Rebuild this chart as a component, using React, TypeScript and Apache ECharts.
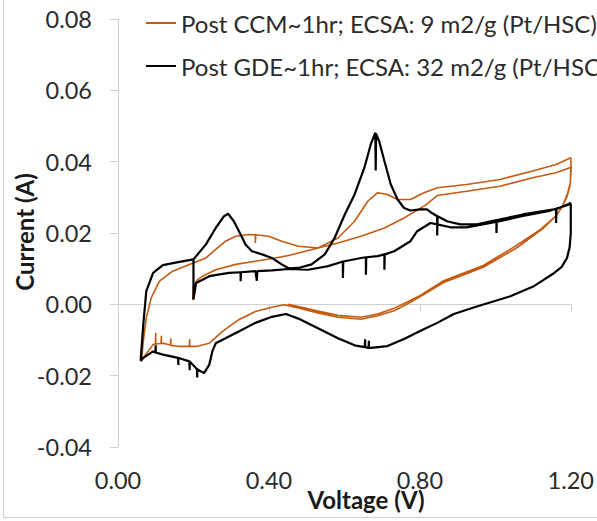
import React, { useEffect, useRef } from "react";
import * as echarts from "echarts";

const ccmName = "Post CCM~1hr; ECSA: 9 m2/g (Pt/HSC)";
const gdeName = "Post GDE~1hr; ECSA: 32 m2/g (Pt/HSC)";

const xTicks = [0, 0.4, 0.8, 1.2];
const yTicks = [-0.04, -0.02, 0, 0.02, 0.04, 0.06, 0.08];

// ---- Post CCM (orange) : [voltage V, current A]
const ccmAnodic1: number[][] = [
  [0.198, 0.0013], [0.2, 0.005], [0.21, 0.0068], [0.224, 0.0079], [0.259, 0.0097],
  [0.312, 0.0112], [0.364, 0.0121], [0.417, 0.013], [0.452, 0.0137], [0.478, 0.0144],
  [0.53, 0.0158], [0.583, 0.0172], [0.644, 0.0191], [0.706, 0.0214], [0.758, 0.0242],
  [0.793, 0.0264], [0.815, 0.0278], [0.846, 0.0305], [0.924, 0.0317], [1.012, 0.0331],
  [1.099, 0.0355], [1.161, 0.0369], [1.197, 0.0383], [1.2, 0.0386],
];
const ccmCathodic1: number[][] = [
  [1.199, 0.034], [1.191, 0.031], [1.178, 0.0275], [1.161, 0.0248], [1.126, 0.0212],
  [1.056, 0.0158], [0.968, 0.0104], [0.863, 0.0061], [0.811, 0.0028], [0.775, 0.0006],
  [0.732, -0.0018], [0.688, -0.0032], [0.644, -0.0042], [0.583, -0.0036], [0.53, -0.0024],
  [0.478, -0.001], [0.44, -0.0001], [0.408, -0.0008], [0.364, -0.002], [0.32, -0.0043],
  [0.277, -0.0076], [0.242, -0.0109], [0.207, -0.0118], [0.19, -0.0118], [0.19, -0.0098],
  [0.189, -0.0118], [0.163, -0.0118], [0.14, -0.0115], [0.14, -0.0095], [0.139, -0.0114],
  [0.119, -0.0109], [0.115, -0.011], [0.115, -0.0088], [0.114, -0.011], [0.1, -0.0111],
  [0.1, -0.008], [0.099, -0.0111], [0.093, -0.0113], [0.066, -0.0151], [0.062, -0.016],
];
const ccmAnodic2: number[][] = [
  [0.067, -0.0104], [0.075, -0.0038], [0.088, 0.0018], [0.11, 0.0065], [0.145, 0.0093],
  [0.189, 0.0112], [0.233, 0.013], [0.259, 0.0154], [0.285, 0.0177], [0.312, 0.0191],
  [0.347, 0.0196], [0.364, 0.0195], [0.364, 0.0172], [0.365, 0.0195], [0.399, 0.0191],
  [0.434, 0.0177], [0.478, 0.0163], [0.53, 0.0158], [0.583, 0.0186], [0.627, 0.0233],
  [0.662, 0.0289], [0.688, 0.0313], [0.714, 0.0308], [0.741, 0.0294], [0.775, 0.0294],
  [0.811, 0.0313], [0.846, 0.0327], [0.924, 0.0336], [1.012, 0.035], [1.099, 0.0374],
  [1.161, 0.0392], [1.2, 0.0411],
];
const ccmCathodic2: number[][] = [
  [1.201, 0.038], [1.198, 0.0333], [1.19, 0.0302], [1.176, 0.0271], [1.158, 0.0245],
  [1.12, 0.021], [1.05, 0.0161], [0.968, 0.0109], [0.863, 0.0066], [0.8, 0.0024],
  [0.73, -0.0012], [0.688, -0.0027], [0.644, -0.0036], [0.583, -0.0031], [0.53, -0.0019],
  [0.478, -0.0006], [0.45, 0.0],
];

// ---- Post GDE (black)
const gdeStart: number[][] = [[0.2, 0.0126], [0.2, 0.0013]];
const gdeAnodic1: number[][] = [
  [0.207, 0.006], [0.242, 0.0079], [0.294, 0.0088], [0.325, 0.009], [0.325, 0.0065],
  [0.326, 0.009], [0.364, 0.0093], [0.368, 0.0066], [0.369, 0.0093], [0.408, 0.0095],
  [0.452, 0.0099], [0.504, 0.0097], [0.557, 0.0107], [0.596, 0.012], [0.596, 0.0074],
  [0.597, 0.012], [0.644, 0.013], [0.657, 0.0132], [0.657, 0.0083], [0.658, 0.0132],
  [0.688, 0.0135], [0.706, 0.014], [0.706, 0.0097], [0.707, 0.014], [0.732, 0.0149],
  [0.775, 0.0177], [0.793, 0.0205], [0.828, 0.0228], [0.846, 0.0224], [0.881, 0.0216],
  [0.924, 0.0216], [1.012, 0.0233], [1.073, 0.0248], [1.143, 0.0262], [1.196, 0.028],
  [1.2, 0.0283],
];
const gdeCathodic1: number[][] = [
  [1.2, 0.02], [1.197, 0.016], [1.19, 0.013], [1.176, 0.0105], [1.152, 0.0085],
  [1.126, 0.0067], [1.099, 0.0049], [1.038, 0.0022], [0.951, -0.0006], [0.89, -0.0027],
  [0.846, -0.0052], [0.802, -0.0074], [0.758, -0.0097], [0.714, -0.0117], [0.67, -0.0122],
  [0.665, -0.0122], [0.665, -0.0102], [0.664, -0.0122], [0.655, -0.012], [0.655, -0.0098],
  [0.654, -0.012], [0.627, -0.0115], [0.583, -0.0095], [0.53, -0.0067], [0.478, -0.004],
  [0.445, -0.0027], [0.408, -0.0035], [0.364, -0.0052], [0.32, -0.0076], [0.285, -0.0095],
  [0.259, -0.0109], [0.25, -0.0132], [0.242, -0.0169], [0.228, -0.0193], [0.21, -0.0182],
  [0.21, -0.0205], [0.209, -0.0181], [0.19, -0.016], [0.19, -0.0185], [0.189, -0.016],
  [0.163, -0.0151], [0.16, -0.015], [0.16, -0.017], [0.159, -0.015], [0.119, -0.0141],
  [0.1, -0.0135], [0.1, -0.0115], [0.099, -0.0135], [0.093, -0.0132], [0.066, -0.0151],
  [0.06, -0.0158],
];
const gdeAnodic2: number[][] = [
  [0.067, -0.0057], [0.075, 0.0037], [0.093, 0.0088], [0.119, 0.011], [0.163, 0.0119],
  [0.2, 0.0126], [0.233, 0.0168], [0.259, 0.0214], [0.281, 0.0247], [0.292, 0.0254],
  [0.307, 0.0233], [0.325, 0.0196], [0.338, 0.0168], [0.355, 0.0149], [0.382, 0.014],
  [0.408, 0.013], [0.434, 0.0112], [0.452, 0.0101], [0.478, 0.0102], [0.513, 0.0112],
  [0.548, 0.014], [0.574, 0.0186], [0.601, 0.0252], [0.627, 0.0308], [0.653, 0.0383],
  [0.67, 0.0449], [0.682, 0.0481], [0.683, 0.0375], [0.684, 0.0478], [0.692, 0.0458],
  [0.706, 0.0402], [0.723, 0.0336], [0.741, 0.0294], [0.758, 0.027], [0.775, 0.0263],
  [0.802, 0.0266], [0.819, 0.0266], [0.832, 0.0256], [0.846, 0.0247], [0.846, 0.0193],
  [0.847, 0.0247], [0.872, 0.0233], [0.907, 0.0224], [0.951, 0.0224], [1.003, 0.0236],
  [1.003, 0.02], [1.004, 0.0236], [1.073, 0.0252], [1.143, 0.0264], [1.161, 0.0267],
  [1.161, 0.0228], [1.162, 0.0267], [1.196, 0.0282], [1.2, 0.0285],
];

const ccmData = [...ccmAnodic1, ...ccmCathodic1, ...ccmAnodic2, ...ccmCathodic2];
const gdeData = [...gdeStart, ...gdeAnodic1, ...gdeCathodic1, ...gdeAnodic2];

const ORANGE = "#C55A11";
const TEXT = "#2b2b2b";
const FONT = "Lato";

export default function App() {
  const ref = useRef<HTMLDivElement>(null);
  useEffect(() => {
    if (!ref.current) return;
    const chart = echarts.init(ref.current, undefined, { renderer: "svg" });
    const legendBase = {
      left: 146,
      padding: 0,
      icon: "rect",
      itemWidth: 30,
      itemHeight: 2,
      textStyle: { fontSize: 24, color: TEXT, fontFamily: FONT, lineHeight: 26 },
    };
    chart.setOption({
      animation: false,
      backgroundColor: "#ffffff",
      legend: [
        { ...legendBase, top: 10, data: [ccmName] },
        { ...legendBase, top: 53, data: [gdeName] },
      ],
      grid: { left: 118, right: 22, top: 19, bottom: 74 },
      xAxis: {
        type: "value",
        min: xTicks[0],
        max: xTicks[xTicks.length - 1],
        interval: 0.4,
        axisLine: { show: true, lineStyle: { color: "#d0d0d0", width: 1 } },
        axisTick: { show: true, length: 8, lineStyle: { color: "#d0d0d0" } },
        splitLine: { show: false },
        axisLabel: {
          margin: 21,
          fontSize: 23.5,
          color: TEXT,
          fontFamily: FONT,
          formatter: (v: number) => v.toFixed(2),
        },
      },
      yAxis: {
        type: "value",
        min: yTicks[0],
        max: yTicks[yTicks.length - 1],
        interval: 0.02,
        axisLine: { show: true, lineStyle: { color: "#d0d0d0", width: 1 } },
        axisTick: { show: true, length: 8, lineStyle: { color: "#d0d0d0" } },
        splitLine: { show: false },
        axisLabel: {
          margin: 26,
          fontSize: 23.5,
          color: TEXT,
          fontFamily: FONT,
          formatter: (v: number) => v.toFixed(2),
        },
      },
      graphic: [
        { type: "line", shape: { x1: 3.5, y1: 0, x2: 3.5, y2: 517.5 }, style: { stroke: "#d0d0d0", lineWidth: 1 } },
        { type: "line", shape: { x1: 3.5, y1: 517.5, x2: 597, y2: 517.5 }, style: { stroke: "#d0d0d0", lineWidth: 1 } },
        {
          type: "text",
          x: 366,
          y: 499,
          z: 10,
          style: { text: "Voltage (V)", fontSize: 24, fontWeight: "bold", fill: "#1a1a1a", fontFamily: FONT, align: "center", verticalAlign: "middle" },
        },
        {
          type: "text",
          x: 24,
          y: 232,
          rotation: Math.PI / 2,
          style: { text: "Current (A)", fontSize: 24, fontWeight: "bold", fill: "#1a1a1a", fontFamily: FONT, align: "center", verticalAlign: "middle" },
        },
      ],
      series: [
        {
          name: ccmName,
          type: "line",
          data: ccmData,
          showSymbol: false,
          symbol: "none",
          color: ORANGE,
          lineStyle: { color: ORANGE, width: 1.6 },
        },
        {
          name: gdeName,
          type: "line",
          data: gdeData,
          showSymbol: false,
          symbol: "none",
          color: "#000000",
          lineStyle: { color: "#000000", width: 2.2 },
        },
      ],
    });
    return () => chart.dispose();
  }, []);
  return <div ref={ref} style={{ width: 597, height: 521, position: "absolute", left: 0, top: 0 }} />;
}
